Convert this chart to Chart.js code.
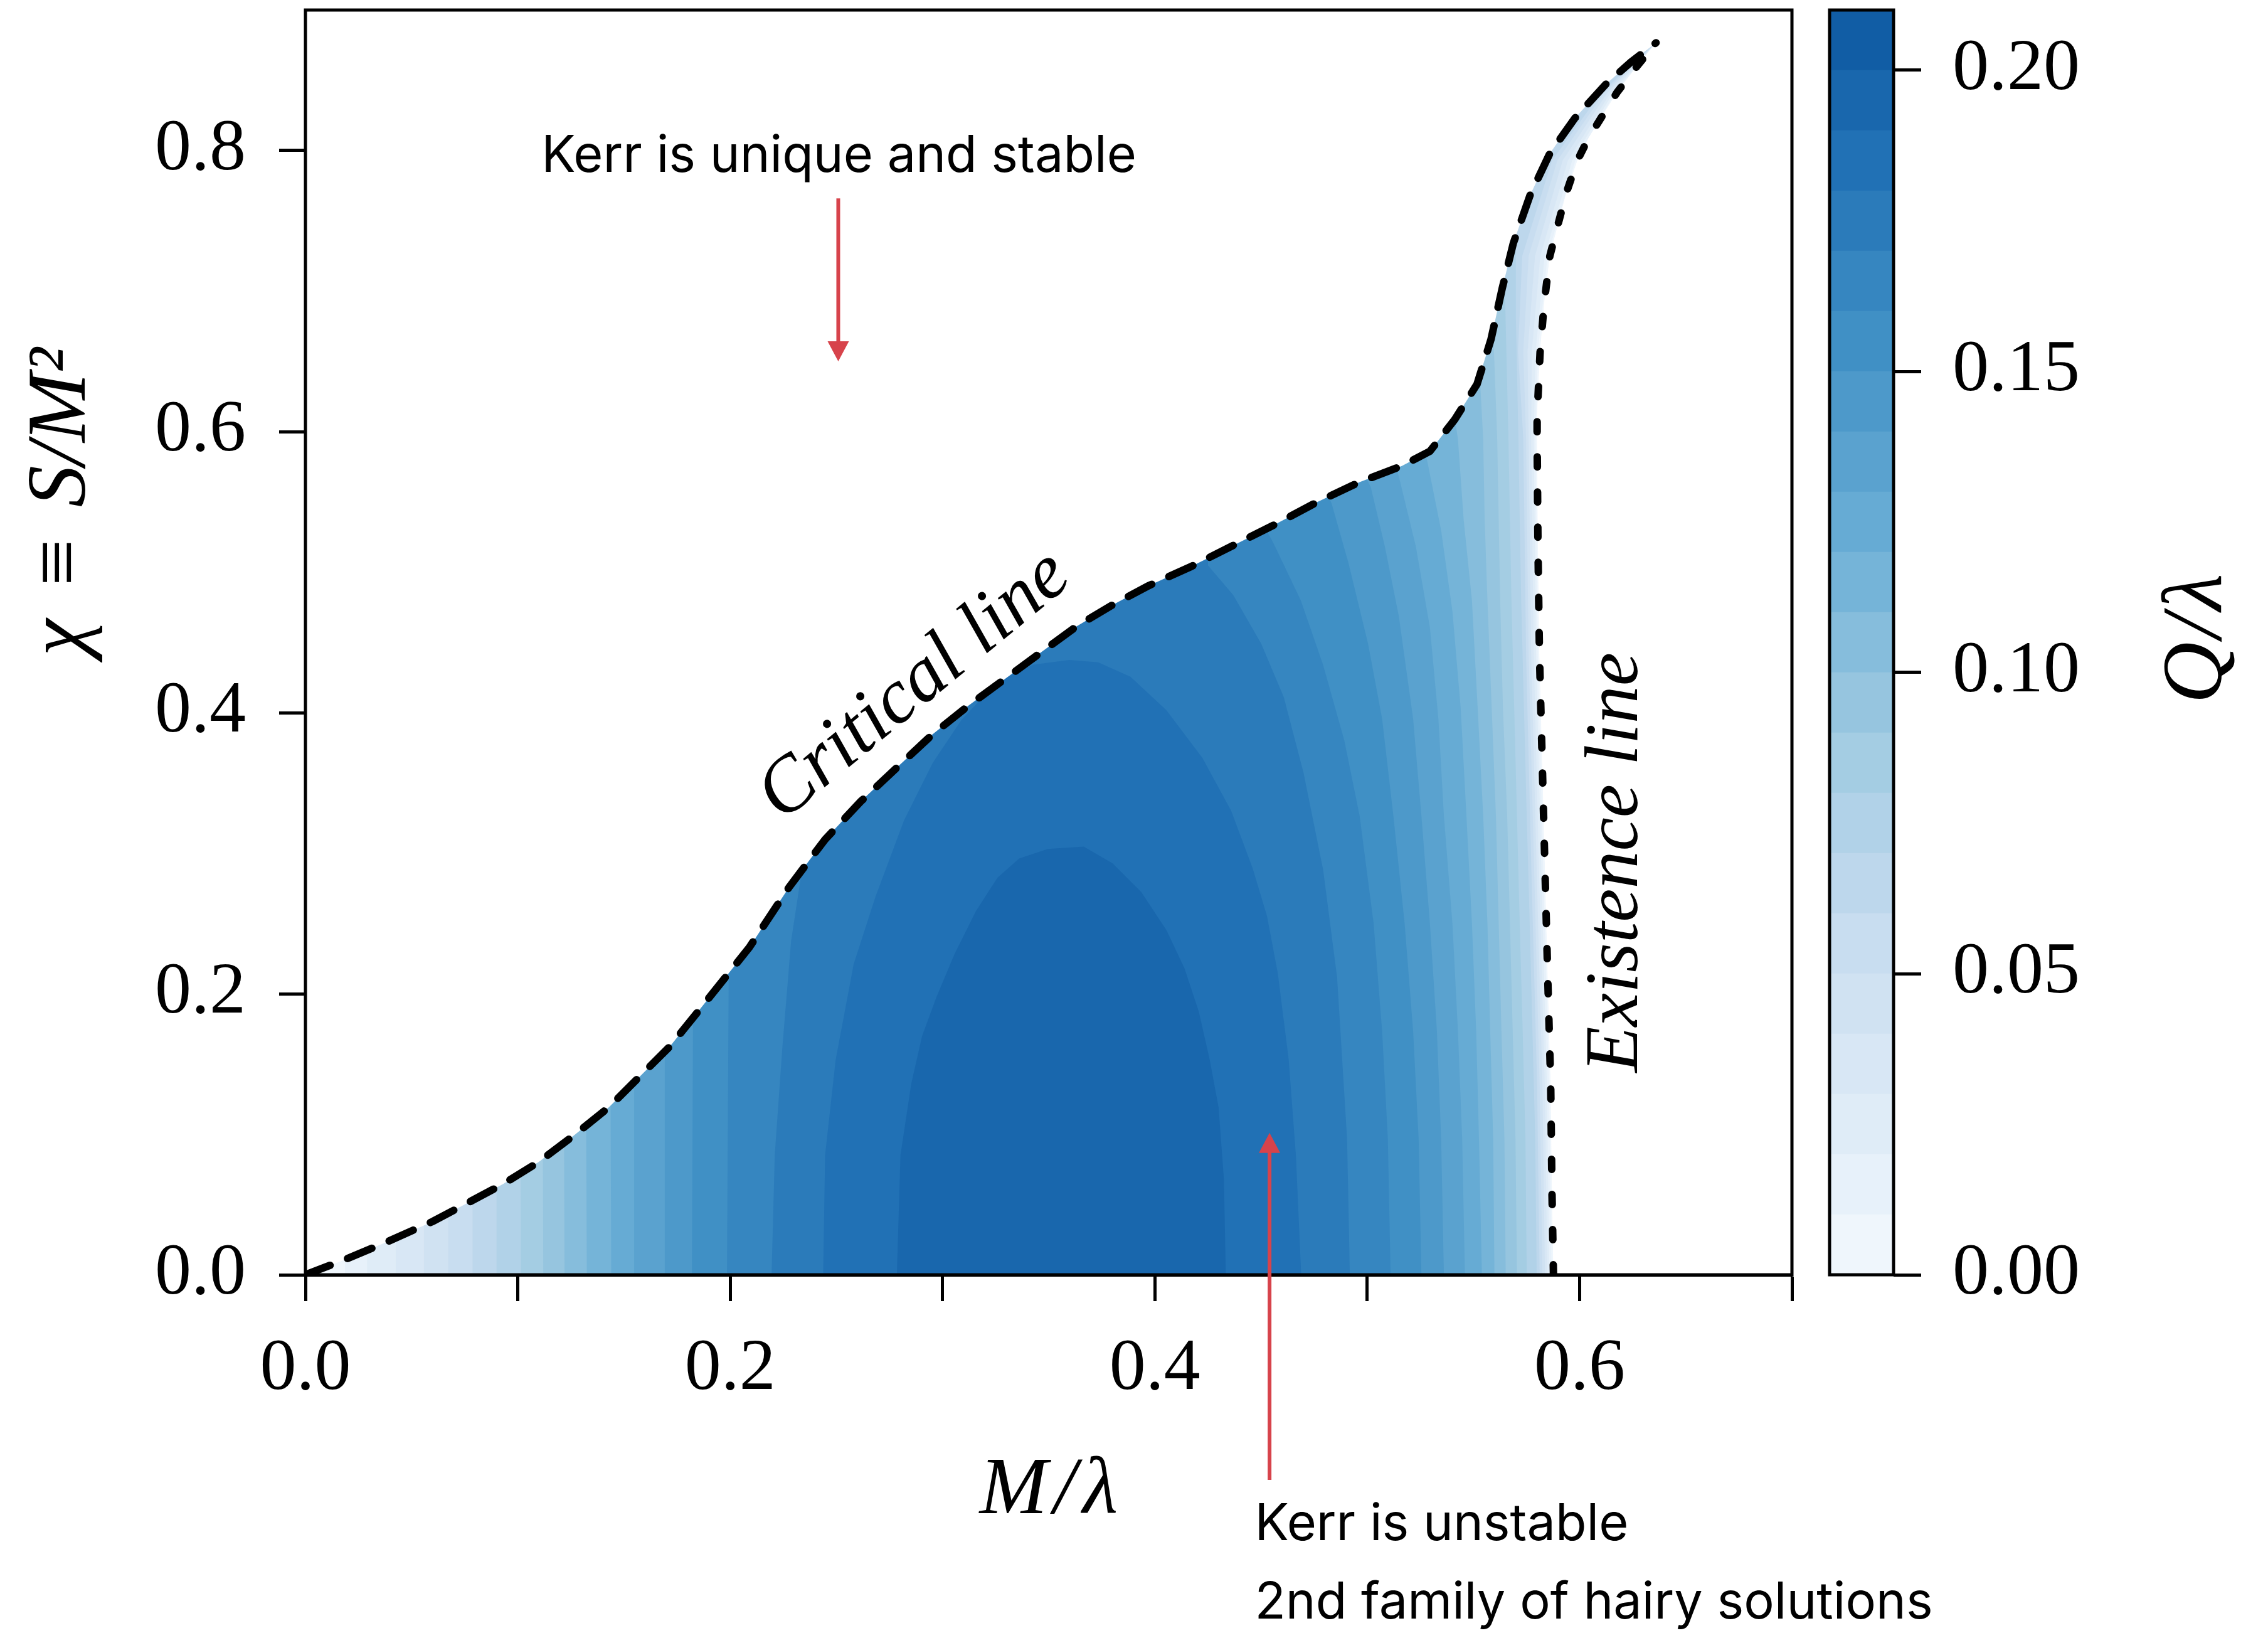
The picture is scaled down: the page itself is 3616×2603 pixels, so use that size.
<!DOCTYPE html>
<html>
<head>
<meta charset="utf-8">
<script src="https://cdn.jsdelivr.net/npm/chart.js@4.4.1/dist/chart.umd.min.js"></script>
<style>
  html, body { margin: 0; padding: 0; background: #fff; }
  body { width: 3616px; height: 2603px; position: relative; overflow: hidden; }
  #main { position: absolute; left: 0; top: 0; }
  #cbar { position: absolute; left: 2900px; top: 0; }
</style>
</head>
<body>
<canvas id="main" width="3616" height="2603"></canvas>
<canvas id="cbar" width="716" height="2603"></canvas>
<script>
// ---- data ----
const qLevels = [0.00, 0.01, 0.02, 0.03, 0.04, 0.05, 0.06, 0.07, 0.08, 0.09, 0.10,
                 0.11, 0.12, 0.13, 0.14, 0.15, 0.16, 0.17, 0.18, 0.19, 0.20, 0.21];
const xTicks = [0, 0.1, 0.2, 0.3, 0.4, 0.5, 0.6, 0.7];
const yTicks = [0, 0.2, 0.4, 0.6, 0.8];
const cbarTicks = [0, 0.05, 0.10, 0.15, 0.20];

// critical line (dashed), M/lambda vs chi
const criticalLine = [
  [0, 0], [0.0186, 0.0108], [0.0393, 0.0240], [0.0600, 0.0380], [0.0766, 0.0513],
  [0.0931, 0.0646], [0.1097, 0.0801], [0.1262, 0.0989], [0.1428, 0.1191], [0.1573, 0.1409],
  [0.1718, 0.1628], [0.1842, 0.1861], [0.1966, 0.2095], [0.2090, 0.2329], [0.2277, 0.2757],
  [0.2447, 0.3098], [0.2616, 0.3370], [0.2785, 0.3609], [0.2954, 0.3847], [0.3124, 0.4052],
  [0.3293, 0.4239], [0.3462, 0.4427], [0.3631, 0.4614], [0.3801, 0.4767], [0.3970, 0.4903],
  [0.4171, 0.5040], [0.4369, 0.5190], [0.4567, 0.5340], [0.4766, 0.5500], [0.4964, 0.5641],
  [0.5163, 0.5756], [0.5295, 0.5860], [0.5412, 0.6086], [0.5517, 0.6337], [0.5583, 0.6657],
  [0.5636, 0.7022], [0.5688, 0.7341], [0.5767, 0.7683], [0.5860, 0.7980], [0.5978, 0.8231],
  [0.6123, 0.8471], [0.6242, 0.8630], [0.6360, 0.8767]
];

// existence line (dotted), bottom to top
const existenceLine = [
  [0.5877, 0], [0.5870, 0.0586], [0.5864, 0.1352], [0.5850, 0.2118], [0.5837, 0.2884],
  [0.5824, 0.3650], [0.5811, 0.4416], [0.5804, 0.5182], [0.5800, 0.5948], [0.5800, 0.6109],
  [0.5814, 0.6566], [0.5833, 0.6908], [0.5860, 0.7250], [0.5899, 0.7478], [0.5939, 0.7706],
  [0.5991, 0.7934], [0.6044, 0.8094], [0.6110, 0.8254], [0.6176, 0.8413], [0.6268, 0.8596],
  [0.6360, 0.8767]
];

// contour Q/lambda = 0.01 ... 0.17 : left branch (bottom -> critical line)
const leftEdges = [
  [[0.0186, 0], [0.0186, 0.011]],
  [[0.0290, 0], [0.0290, 0.017]],
  [[0.0425, 0], [0.0425, 0.026]],
  [[0.0558, 0], [0.0558, 0.035]],
  [[0.0672, 0], [0.0672, 0.043]],
  [[0.0787, 0], [0.0787, 0.052]],
  [[0.0900, 0], [0.0900, 0.062]],
  [[0.1015, 0], [0.1013, 0.073]],
  [[0.1120, 0], [0.1118, 0.083]],
  [[0.1220, 0], [0.1218, 0.095]],
  [[0.1325, 0], [0.1322, 0.106]],
  [[0.1440, 0], [0.1437, 0.121]],
  [[0.1550, 0], [0.1548, 0.137]],
  [[0.1690, 0], [0.1692, 0.159]],
  [[0.1820, 0], [0.1825, 0.180]],
  [[0.1985, 0], [0.1993, 0.210]],
  [[0.2195, 0], [0.2210, 0.085], [0.2245, 0.160], [0.2287, 0.2375], [0.2340, 0.290]]
];

// same contours: right branch (bottom -> critical line / top corner)
const rightEdges = [
  [[0.5868, 0], [0.5856, 0.135], [0.5829, 0.288], [0.5803, 0.442], [0.5792, 0.595], [0.5804, 0.657], [0.5849, 0.725], [0.5980, 0.793], [0.6167, 0.841], [0.6360, 0.877]],
  [[0.5858, 0], [0.5846, 0.135], [0.5820, 0.288], [0.5795, 0.442], [0.5784, 0.595], [0.5793, 0.657], [0.5835, 0.725], [0.5965, 0.793], [0.6157, 0.841], [0.6360, 0.877]],
  [[0.5848, 0], [0.5836, 0.135], [0.5809, 0.288], [0.5784, 0.442], [0.5772, 0.595], [0.5775, 0.657], [0.5815, 0.725], [0.5945, 0.793], [0.6145, 0.841], [0.6360, 0.877]],
  [[0.5837, 0], [0.5825, 0.135], [0.5798, 0.288], [0.5772, 0.442], [0.5760, 0.595], [0.5755, 0.657], [0.5790, 0.725], [0.5920, 0.793], [0.6130, 0.841], [0.6360, 0.877]],
  [[0.5825, 0], [0.5812, 0.135], [0.5786, 0.288], [0.5760, 0.442], [0.5748, 0.595], [0.5735, 0.657], [0.5760, 0.725], [0.5895, 0.793], [0.6115, 0.841], [0.6360, 0.877]],
  [[0.5812, 0], [0.5800, 0.135], [0.5773, 0.288], [0.5748, 0.442], [0.5735, 0.595], [0.5710, 0.657], [0.5730, 0.725], [0.5870, 0.793], [0.6100, 0.841], [0.6360, 0.877]],
  [[0.5798, 0], [0.5791, 0.0969], [0.5778, 0.1735], [0.5765, 0.2501], [0.5751, 0.3267], [0.5738, 0.4033], [0.5725, 0.4799], [0.5718, 0.5374], [0.5712, 0.5948], [0.5700, 0.680], [0.5700, 0.740]],
  [[0.5751, 0], [0.5745, 0.0969], [0.5732, 0.1735], [0.5718, 0.2501], [0.5705, 0.3267], [0.5692, 0.4033], [0.5679, 0.4799], [0.5672, 0.5374], [0.5665, 0.5948], [0.5650, 0.690]],
  [[0.5705, 0], [0.5698, 0.0969], [0.5685, 0.1735], [0.5672, 0.2501], [0.5659, 0.3267], [0.5639, 0.4033], [0.5626, 0.4799], [0.5619, 0.5374], [0.5612, 0.5948], [0.5595, 0.665]],
  [[0.5652, 0], [0.5646, 0.0969], [0.5632, 0.1735], [0.5619, 0.2501], [0.5606, 0.3267], [0.5586, 0.4033], [0.5566, 0.4799], [0.5553, 0.5374], [0.5546, 0.5948], [0.5530, 0.640]],
  [[0.5599, 0], [0.5593, 0.0969], [0.5579, 0.1735], [0.5566, 0.2501], [0.5546, 0.3267], [0.5520, 0.4033], [0.5493, 0.4799], [0.5454, 0.5374], [0.5427, 0.5948], [0.5410, 0.612]],
  [[0.5540, 0], [0.5526, 0.0969], [0.5513, 0.1735], [0.5493, 0.2501], [0.5467, 0.3267], [0.5440, 0.4033], [0.5401, 0.4722], [0.5348, 0.5297], [0.5282, 0.5795], [0.5270, 0.587]],
  [[0.5460, 0], [0.5447, 0.0969], [0.5427, 0.1735], [0.5401, 0.2501], [0.5361, 0.3267], [0.5335, 0.3956], [0.5295, 0.4607], [0.5229, 0.5182], [0.5149, 0.568], [0.5130, 0.577]],
  [[0.5361, 0], [0.5348, 0.0969], [0.5328, 0.1735], [0.5295, 0.2501], [0.5255, 0.3267], [0.5216, 0.3956], [0.5149, 0.4684], [0.5083, 0.5182], [0.5017, 0.5604], [0.4995, 0.567]],
  [[0.5255, 0], [0.5242, 0.0969], [0.5216, 0.1735], [0.5176, 0.2501], [0.5123, 0.3267], [0.5070, 0.3956], [0.5004, 0.449], [0.4911, 0.5068], [0.4832, 0.549], [0.4810, 0.556]],
  [[0.5110, 0], [0.5097, 0.0969], [0.5070, 0.1735], [0.5030, 0.2501], [0.4964, 0.3267], [0.4892, 0.3803], [0.4792, 0.434], [0.4687, 0.4799], [0.4554, 0.522], [0.4520, 0.531]],
  [[0.4918, 0], [0.4905, 0.0969], [0.4858, 0.2118], [0.4792, 0.2884], [0.4700, 0.3573], [0.4607, 0.411], [0.4501, 0.449], [0.4369, 0.4837], [0.4250, 0.5048]]
];

// closed contours Q/lambda = 0.18 and 0.19
const arch18 = [
  [0.2438, 0], [0.2447, 0.085], [0.2497, 0.1531], [0.2582, 0.2212], [0.2684, 0.2689],
  [0.2819, 0.3234], [0.2954, 0.3643], [0.3090, 0.3950], [0.3259, 0.4222], [0.3428, 0.4341],
  [0.3597, 0.4375], [0.3733, 0.4358], [0.3885, 0.4256], [0.4054, 0.4018], [0.4224, 0.3677],
  [0.4359, 0.3303], [0.4460, 0.2894], [0.4528, 0.2553], [0.4579, 0.2144], [0.4630, 0.1531],
  [0.4664, 0.085], [0.4689, 0]
];
const arch19 = [
  [0.2785, 0], [0.2802, 0.085], [0.2853, 0.136], [0.2904, 0.170], [0.2971, 0.1974],
  [0.3056, 0.228], [0.3157, 0.2587], [0.3259, 0.2826], [0.3361, 0.2962], [0.3496, 0.3030],
  [0.3665, 0.3047], [0.3801, 0.2928], [0.3936, 0.2723], [0.4055, 0.2451], [0.4140, 0.2179],
  [0.4207, 0.1872], [0.4258, 0.1531], [0.4300, 0.1191], [0.4325, 0.0680], [0.4334, 0]
];

// annotations (data coordinates)
const arrows = [
  { from: [0.2509, 0.766], to: [0.2509, 0.650] },
  { from: [0.4540, -0.146], to: [0.4540, 0.101] }
];
const notes = [
  { text: 'Kerr is unique and stable', x: 0.1111, y: 0.785 },
  { text: 'Kerr is unstable', x: 0.4470, y: -0.189 },
  { text: '2nd family of hairy solutions', x: 0.4470, y: -0.2447 }
];

// ---- styles ----
// Blues colormap, one colour per band of qLevels
const bandColors = [
  'rgb(239,246,252)', 'rgb(231,241,250)', 'rgb(223,236,247)', 'rgb(216,231,245)',
  'rgb(208,226,242)', 'rgb(200,221,240)', 'rgb(189,215,236)', 'rgb(177,210,232)',
  'rgb(164,205,227)', 'rgb(150,197,223)', 'rgb(134,189,220)', 'rgb(117,180,216)',
  'rgb(102,171,212)', 'rgb(90,162,207)', 'rgb(77,153,202)', 'rgb(64,144,197)',
  'rgb(54,134,192)', 'rgb(43,123,186)', 'rgb(33,113,181)', 'rgb(25,103,173)',
  'rgb(17,93,165)'
];
const SERIF = '"Liberation Serif", "Times New Roman", serif';
const SANS = 'Inter, "Noto Sans", sans-serif';
const RED = '#d7434b';
const ABOVE = 1.05; // route polygons through the white area above the frame

const toXY = pts => pts.map(([x, y]) => ({ x, y }));

function levelOutline(left, right) {
  const l = left[left.length - 1];
  const r = right[right.length - 1];
  return [...left, [l[0], ABOVE], [r[0], ABOVE], ...right.slice().reverse()];
}

function fillSet(points, color, order) {
  return {
    data: toXY(points), fill: 'shape', backgroundColor: color,
    borderWidth: 0, borderColor: 'transparent', pointRadius: 0, tension: 0, order
  };
}

const datasets = [];
// band 0: whole region between the two lines
datasets.push(fillSet([...criticalLine, ...existenceLine.slice().reverse()], bandColors[0], 100));
leftEdges.forEach((left, i) => {
  datasets.push(fillSet(levelOutline(left, rightEdges[i]), bandColors[i + 1], 99 - i));
});
datasets.push(fillSet(arch18, bandColors[18], 80));
datasets.push(fillSet(arch19, bandColors[19], 79));
// white area outside the existence region
datasets.push(fillSet([
  ...criticalLine, ...existenceLine.slice().reverse(),
  [0.75, 0], [0.75, ABOVE], [-0.05, ABOVE], [-0.05, 0]
], '#ffffff', 10));
datasets.push({
  data: toXY(criticalLine), borderColor: '#000', borderWidth: 12, borderDash: [42, 30],
  borderCapStyle: 'round', pointRadius: 0, fill: false, tension: 0, order: 2
});
datasets.push({
  data: toXY(existenceLine), borderColor: '#000', borderWidth: 12, borderDash: [16, 40],
  borderCapStyle: 'round', pointRadius: 0, fill: false, tension: 0, order: 1
});

const tickGrid = { drawOnChartArea: false, drawTicks: true, tickLength: 42, tickWidth: 5, tickColor: '#000' };

const overlayPlugin = {
  id: 'overlay',
  afterDraw(chart) {
    const { ctx, chartArea: a, scales: { x, y } } = chart;
    ctx.save();
    ctx.strokeStyle = '#000';
    ctx.lineWidth = 5;
    ctx.strokeRect(a.left, a.top, a.right - a.left, a.bottom - a.top);

    // arrows
    ctx.strokeStyle = RED;
    ctx.fillStyle = RED;
    ctx.lineWidth = 6;
    for (const ar of arrows) {
      const x1 = x.getPixelForValue(ar.from[0]), y1 = y.getPixelForValue(ar.from[1]);
      const x2 = x.getPixelForValue(ar.to[0]), y2 = y.getPixelForValue(ar.to[1]);
      const len = Math.hypot(x2 - x1, y2 - y1);
      const ux = (x2 - x1) / len, uy = (y2 - y1) / len;
      const head = 32, half = 17;
      ctx.beginPath();
      ctx.moveTo(x1, y1);
      ctx.lineTo(x2 - ux * head * 0.8, y2 - uy * head * 0.8);
      ctx.stroke();
      ctx.beginPath();
      ctx.moveTo(x2, y2);
      ctx.lineTo(x2 - ux * head - uy * half, y2 - uy * head + ux * half);
      ctx.lineTo(x2 - ux * head + uy * half, y2 - uy * head - ux * half);
      ctx.closePath();
      ctx.fill();
    }

    // plain annotations
    ctx.fillStyle = '#000';
    ctx.font = '81px ' + SANS;
    ctx.textAlign = 'left';
    ctx.textBaseline = 'alphabetic';
    for (const n of notes) {
      ctx.fillText(n.text, x.getPixelForValue(n.x), y.getPixelForValue(n.y));
    }

    // line labels
    ctx.font = 'italic 124px ' + SERIF;
    ctx.textAlign = 'center';
    ctx.textBaseline = 'middle';
    ctx.save();
    ctx.translate(x.getPixelForValue(0.2870), y.getPixelForValue(0.4188));
    ctx.rotate(-39.5 * Math.PI / 180);
    ctx.fillText('Critical line', 0, 0);
    ctx.restore();
    ctx.save();
    ctx.font = 'italic 120px ' + SERIF;
    ctx.translate(x.getPixelForValue(0.6176), y.getPixelForValue(0.2934));
    ctx.rotate(-Math.PI / 2);
    ctx.fillText('Existence line', 0, 0);
    ctx.restore();

    // axis titles
    ctx.save();
    ctx.font = 'italic 130px ' + SERIF;
    ctx.textBaseline = 'alphabetic';
    ctx.letterSpacing = '10px';
    ctx.fillText('M/\u03bb', (a.left + a.right) / 2 + 5, 2412);
    ctx.restore();
    ctx.save();
    ctx.font = 'italic 133px ' + SERIF;
    ctx.textBaseline = 'middle';
    ctx.translate(100, 800);
    ctx.rotate(-Math.PI / 2);
    ctx.fillText('\u03c7\u2004\u2261\u2004S/M\u00b2', 0, 0);
    ctx.restore();
    ctx.restore();
  }
};

new Chart(document.getElementById('main'), {
  type: 'line',
  data: { datasets },
  options: {
    responsive: false,
    animation: false,
    events: [],
    layout: { padding: { left: 0, right: 759, top: 16, bottom: 0 } },
    plugins: { legend: { display: false }, tooltip: { enabled: false } },
    scales: {
      x: {
        type: 'linear', min: 0, max: 0.7,
        afterBuildTicks: s => { s.ticks = xTicks.map(v => ({ value: v })); },
        afterFit: s => { s.height = 571; s.paddingLeft = 0; s.paddingRight = 0; },
        grid: tickGrid,
        border: { display: true, color: '#000', width: 5 },
        ticks: {
          font: { family: SERIF, size: 116 }, color: '#000', padding: 40,
          maxRotation: 0, autoSkip: false,
          callback: v => (Math.round(v * 10) % 2 === 0 ? v.toFixed(1) : '')
        }
      },
      y: {
        type: 'linear', min: 0, max: 0.9,
        afterBuildTicks: s => { s.ticks = yTicks.map(v => ({ value: v })); },
        afterFit: s => { s.width = 487; s.paddingTop = 0; s.paddingBottom = 0; },
        grid: tickGrid,
        border: { display: true, color: '#000', width: 5 },
        ticks: {
          font: { family: SERIF, size: 116 }, color: '#000', padding: 53,
          callback: v => v.toFixed(1)
        }
      }
    }
  },
  plugins: [overlayPlugin]
});

// ---- colour bar ----
const cbarPlugin = {
  id: 'cbarFrame',
  afterDraw(chart) {
    const { ctx, chartArea: a } = chart;
    ctx.save();
    ctx.strokeStyle = '#000';
    ctx.lineWidth = 5;
    ctx.strokeRect(a.left, a.top, a.right - a.left, a.bottom - a.top);
    ctx.fillStyle = '#000';
    ctx.font = 'italic 136px ' + SERIF;
    ctx.letterSpacing = '6px';
    ctx.textAlign = 'center';
    ctx.textBaseline = 'middle';
    ctx.translate(605, 1015);
    ctx.rotate(-Math.PI / 2);
    ctx.fillText('Q/\u03bb', 0, 0);
    ctx.restore();
  }
};

new Chart(document.getElementById('cbar'), {
  type: 'bar',
  data: {
    labels: ['Q'],
    datasets: bandColors.map((c, i) => ({
      data: [[qLevels[i], qLevels[i + 1]]],
      backgroundColor: c, borderWidth: 0,
      barPercentage: 1, categoryPercentage: 1, grouped: false
    }))
  },
  options: {
    responsive: false,
    animation: false,
    events: [],
    layout: { padding: { left: 17, right: 0, top: 16, bottom: 571 } },
    plugins: { legend: { display: false }, tooltip: { enabled: false } },
    scales: {
      x: { display: false },
      y: {
        position: 'right', min: 0, max: 0.21,
        afterBuildTicks: s => { s.ticks = cbarTicks.map(v => ({ value: v })); },
        afterFit: s => { s.width = 597; s.paddingTop = 0; s.paddingBottom = 0; },
        grid: { drawOnChartArea: false, drawTicks: true, tickLength: 44, tickWidth: 5, tickColor: '#000' },
        border: { display: false },
        ticks: {
          font: { family: SERIF, size: 116 }, color: '#000', padding: 50,
          callback: v => v.toFixed(2)
        }
      }
    }
  },
  plugins: [cbarPlugin]
});
</script>
</body>
</html>
